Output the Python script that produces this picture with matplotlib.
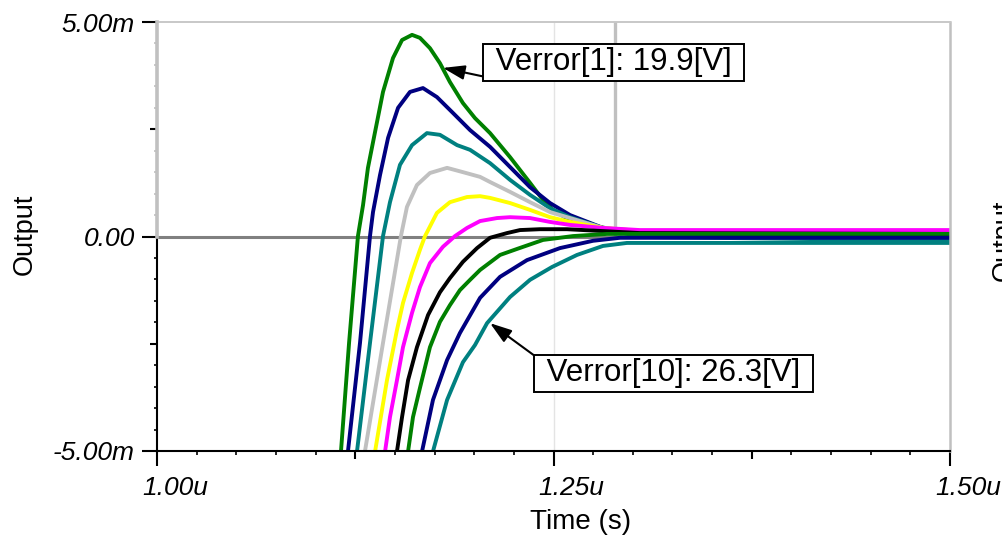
import matplotlib
matplotlib.use("Agg")
import matplotlib.pyplot as plt
from matplotlib.ticker import FixedLocator, MultipleLocator, NullLocator
from matplotlib.transforms import ScaledTranslation

plt.rcParams['font.family'] = ['Liberation Sans', 'DejaVu Sans']

# time in us, output in mV
t1 = [1.1129, 1.1160, 1.1211, 1.1267, 1.1299, 1.1330, 1.1375, 1.1425, 1.1488, 1.1545, 1.1608, 1.1658, 1.1721, 1.1784,
      1.1847, 1.1929, 1.2005, 1.2100, 1.2226, 1.2352, 1.2434, 1.2497, 1.2604, 1.2711, 1.2875, 1.3045, 1.5]
v1 = [-6.61, -5.01, -2.48, 0.01, 0.73, 1.60, 2.44, 3.37, 4.16, 4.58, 4.70, 4.63, 4.39, 4.04,
      3.60, 3.11, 2.76, 2.41, 1.85, 1.25, 0.85, 0.62, 0.38, 0.27, 0.17, 0.10, 0.09]
t2 = [1.1173, 1.1204, 1.1280, 1.1343, 1.1362, 1.1406, 1.1457, 1.1520, 1.1595, 1.1677, 1.1765, 1.1866, 1.1974, 1.2100,
      1.2226, 1.2352, 1.2478, 1.2604, 1.2812, 1.3045, 1.5]
v2 = [-6.61, -5.01, -2.48, 0.01, 0.57, 1.43, 2.30, 3.00, 3.37, 3.46, 3.25, 2.88, 2.48, 2.09,
      1.62, 1.15, 0.78, 0.50, 0.20, 0.03, 0.00]
t3 = [1.1230, 1.1261, 1.1343, 1.1425, 1.1469, 1.1532, 1.1608, 1.1702, 1.1784, 1.1892, 1.1974, 1.2100, 1.2226, 1.2352,
      1.2478, 1.2604, 1.2812, 1.3045, 1.5]
v3 = [-6.61, -5.01, -2.48, 0.01, 0.80, 1.67, 2.13, 2.41, 2.37, 2.13, 2.02, 1.71, 1.32, 0.97,
      0.66, 0.45, 0.20, -0.01, -0.10]
t4 = [1.1280, 1.1311, 1.1425, 1.1538, 1.1576, 1.1639, 1.1721, 1.1829, 1.1929, 1.2037, 1.2100, 1.2226, 1.2352, 1.2478,
      1.2604, 1.2812, 1.3045, 1.5]
v4 = [-6.61, -5.01, -2.48, 0.01, 0.69, 1.20, 1.48, 1.60, 1.50, 1.39, 1.27, 1.04, 0.80, 0.57,
      0.43, 0.20, 0.13, 0.13]
t5 = [1.1343, 1.1375, 1.1450, 1.1513, 1.1551, 1.1608, 1.1658, 1.1690, 1.1765, 1.1847, 1.1955, 1.2037, 1.2100, 1.2226,
      1.2352, 1.2478, 1.2604, 1.2812, 1.3045, 1.5]
v5 = [-6.61, -5.01, -3.35, -2.18, -1.55, -0.85, -0.31, 0.01, 0.55, 0.80, 0.92, 0.94, 0.90, 0.78,
      0.62, 0.45, 0.34, 0.20, 0.13, 0.13]
t6 = [1.1406, 1.1438, 1.1469, 1.1513, 1.1551, 1.1608, 1.1658, 1.1721, 1.1803, 1.1879, 1.1955, 1.2037, 1.2144, 1.2226,
      1.2352, 1.2478, 1.2604, 1.2812, 1.3045, 1.5]
v6 = [-6.61, -5.01, -4.21, -3.35, -2.58, -1.78, -1.18, -0.62, -0.24, 0.01, 0.20, 0.36, 0.43, 0.45,
      0.43, 0.34, 0.27, 0.20, 0.15, 0.15]
t7 = [1.1482, 1.1513, 1.1545, 1.1583, 1.1639, 1.1709, 1.1784, 1.1847, 1.1929, 1.2018, 1.2100, 1.2207, 1.2289, 1.2415,
      1.2585, 1.2793, 1.3045, 1.5]
v7 = [-6.61, -5.01, -4.21, -3.35, -2.58, -1.83, -1.30, -0.97, -0.59, -0.27, -0.03, 0.08, 0.15, 0.17,
      0.17, 0.13, 0.08, 0.06]
t8 = [1.1551, 1.1583, 1.1614, 1.1658, 1.1721, 1.1784, 1.1847, 1.1910, 1.1974, 1.2037, 1.2163, 1.2270, 1.2434, 1.2623,
      1.2837, 1.3045, 1.5]
v8 = [-6.61, -5.01, -4.21, -3.53, -2.58, -1.99, -1.60, -1.25, -1.01, -0.78, -0.43, -0.29, -0.08, 0.01,
      0.06, 0.06, 0.06]
t9 = [1.1639, 1.1671, 1.1740, 1.1829, 1.1910, 1.2037, 1.2163, 1.2333, 1.2541, 1.2749, 1.2919, 1.5]
v9 = [-6.61, -5.01, -3.81, -2.88, -2.25, -1.43, -0.94, -0.55, -0.27, -0.10, -0.03, -0.03]
t10 = [1.1709, 1.1740, 1.1829, 1.1929, 1.2005, 1.2081, 1.2226, 1.2352, 1.2491, 1.2648, 1.2812, 1.2963, 1.3172, 1.5]
v10 = [-6.61, -5.01, -3.81, -2.93, -2.53, -2.02, -1.41, -1.01, -0.71, -0.43, -0.22, -0.15, -0.15, -0.15]

times = [t1, t2, t3, t4, t5, t6, t7, t8, t9, t10]
values = [v1, v2, v3, v4, v5, v6, v7, v8, v9, v10]
colors = ["#008000", "#000080", "#008080", "#c0c0c0", "#ffff00",
          "#ff00ff", "#000000", "#008000", "#000080", "#008080"]

x_ticks = [1.0, 1.25, 1.5]
x_labels = ["1.00u", "1.25u", "1.50u"]
x_mid_ticks = [1.125, 1.375]
y_ticks = [-5, 0, 5]
y_labels = ["-5.00m", "0.00", "5.00m"]
y_mid_ticks = [-2.5, 2.5]
y_minor_neg = [-4.5, -4, -3.5, -3, -2, -1.5, -1, -0.5]
y_minor_pos = [0.5, 1, 1.5, 2, 3, 3.5, 4, 4.5]
cursor_t = 1.2888

note1 = " Verror[1]: 19.9[V] "
note1_xy = (1.1803, 3.93)
note1_text = (1.2881, 4.06)
note10 = " Verror[10]: 26.3[V] "
note10_xy = (1.2100, -2.02)
note10_text = (1.3257, -3.19)

W, H = 1003, 543
fig = plt.figure(figsize=(W / 100, H / 100), dpi=100)
ax = fig.add_axes([157 / W, 1 - 451 / H, (950 - 157) / W, (451 - 22) / H])
ax.set_xlim(x_ticks[0], x_ticks[-1])
ax.set_ylim(y_ticks[0], y_ticks[-1])

# frame
ax.spines['left'].set_visible(False)
ax.spines['top'].set_color('#c8c8c8')
ax.spines['top'].set_linewidth(1.4)
ax.spines['right'].set_color('#c0c0c0')
ax.spines['right'].set_linewidth(1.8)
ax.spines['bottom'].set_linewidth(1.5)
ax.axvline(x_ticks[0], ymin=0, ymax=0.5, color='black', lw=1.5, clip_on=False, zorder=3)
ax.axvline(x_ticks[0], ymin=0.5, ymax=1, color='#c0c0c0', lw=2.6, clip_on=False, zorder=3)

ax.axvline(x_ticks[1], color='#e4e4e4', lw=1.0, zorder=1)
ax.axvline(cursor_t, ymin=0.5, ymax=1, color='#c0c0c0', lw=2.4, zorder=1)
ax.axhline(0, color='#808080', lw=2.2, zorder=1.5)

for t, v, c in zip(times, values, colors):
    ax.plot(t, v, color=c, lw=2.8, zorder=2, solid_joinstyle='round')

# ticks (lengths in points: 15 px ~ 10.8 pt)
ax.xaxis.set_major_locator(FixedLocator(x_ticks))
ax.set_xticklabels(x_labels, fontsize=19, fontstyle='italic')
ax.xaxis.set_minor_locator(MultipleLocator(0.025))
ax.tick_params(axis='x', which='major', length=10.8, width=1.5, pad=7.5)
ax.tick_params(axis='x', which='minor', length=2.9, width=1.2)
for lab in ax.get_xticklabels():
    lab.set_transform(lab.get_transform() + ScaledTranslation(0.18, 0, fig.dpi_scale_trans))

ax.yaxis.set_major_locator(FixedLocator(y_ticks))
ax.set_yticklabels(y_labels, fontsize=19, fontstyle='italic')
ax.yaxis.set_minor_locator(FixedLocator(y_minor_neg))
ax.tick_params(axis='y', which='major', length=10.8, width=1.5, pad=5)
ax.tick_params(axis='y', which='minor', length=2.5, width=1.2)

secx = ax.secondary_xaxis('bottom')
secx.set_xticks(x_mid_ticks)
secx.set_xticklabels(['', ''])
secx.tick_params(length=5.8, width=1.5)
secx.spines['bottom'].set_visible(False)
secx.xaxis.set_minor_locator(NullLocator())

secy = ax.secondary_yaxis('left')
secy.set_yticks(y_mid_ticks)
secy.set_yticklabels(['', ''])
secy.tick_params(length=5, width=1.5)
secy.spines['left'].set_visible(False)
secy.yaxis.set_minor_locator(NullLocator())

secy2 = ax.secondary_yaxis('left')
secy2.set_yticks(y_minor_pos)
secy2.set_yticklabels([''] * len(y_minor_pos))
secy2.tick_params(length=2.5, width=1.2, color='#c0c0c0')
secy2.spines['left'].set_visible(False)
secy2.yaxis.set_minor_locator(NullLocator())

# annotations
box = dict(boxstyle='square,pad=0.12', fc='white', ec='black', lw=1.4)
ax.annotate(note1, xy=note1_xy, xytext=note1_text, ha='center', va='center', fontsize=22.5, bbox=box,
            arrowprops=dict(arrowstyle='-|>,head_length=0.6,head_width=0.2', mutation_scale=22, color='black',
                            lw=1.5, relpos=(0, 0), shrinkA=0, shrinkB=0), zorder=5)
ax.annotate(note10, xy=note10_xy, xytext=note10_text, ha='center', va='center', fontsize=22.5, bbox=box,
            arrowprops=dict(arrowstyle='-|>,head_length=0.6,head_width=0.2', mutation_scale=22, color='black',
                            lw=1.5, relpos=(0, 1), shrinkA=0, shrinkB=0), zorder=5)

fig.text(25 / W, 1 - 234 / H, "Output", rotation=90, ha='center', va='center', fontsize=19.5)
fig.text(1004 / W, 1 - 240 / H, "Output", rotation=90, ha='center', va='center', fontsize=19.5)
fig.text(581 / W, 1 - 522 / H, "Time (s)", ha='center', va='center', fontsize=20)

fig.savefig('out.png', dpi=100)
